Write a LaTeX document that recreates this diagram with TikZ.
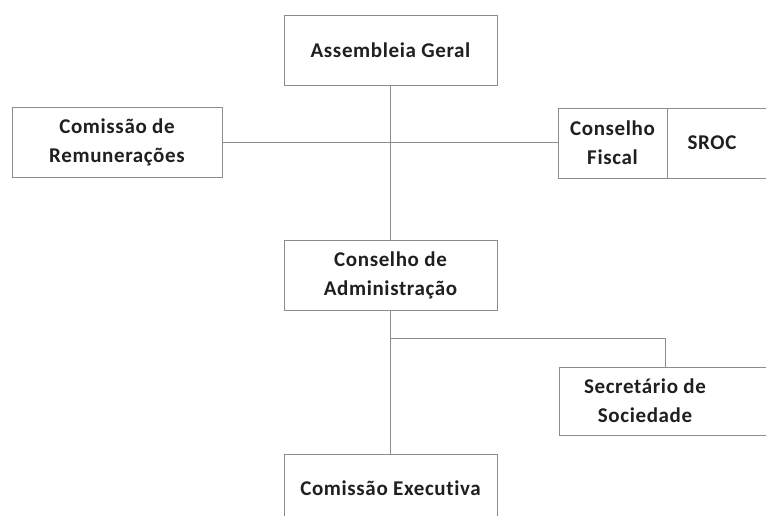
\documentclass[tikz,border=0pt]{standalone}
\usepackage{fontspec}
\setmainfont{Carlito}[Ligatures=NoCommon, LetterSpace=3]
\begin{document}
\begin{tikzpicture}[x=1pt,y=-1pt,
  box/.style={draw=black!45, line width=0.9pt, minimum width=#1, minimum height=70pt, inner sep=0pt, outer sep=0pt},
  lbl/.style={font=\fontsize{21}{29}\selectfont\bfseries, text=black!88, align=center, inner sep=0pt},
  conn/.style={draw=black!45, line width=0.9pt}]
\useasboundingbox (0,0) rectangle (766,516);
\clip (0,0) rectangle (766,516);
% boxes
\node[box=213pt] (ag) at (390.5,50) {};
\node[lbl] (agt) at (390.5,50) {Assembleia Geral};
\node[box=210pt] (cr) at (117,142) {};
\node[lbl] (crt) at (117,142) {Comissão de\\Remunerações};
\node[box=109pt] (cf) at (612.5,143) {};
\node[lbl] (cft) at (612.5,143) {Conselho\\Fiscal};
\node[box=103pt] (sroc) at (718.5,143) {};
\node[lbl] (sroct) at (712,143) {SROC};
\node[box=213pt] (ca) at (390.5,275) {};
\node[lbl] (cat) at (390.5,275) {Conselho de\\Administração};
\node[box=212pt, minimum height=68pt] (ss) at (665,401) {};
\node[lbl] (sst) at (645,401) {Secretário de\\Sociedade};
\node[box=213pt, minimum height=80pt] (ce) at (390.5,494) {};
\node[lbl] (cet) at (390.5,488) {Comissão Executiva};
% connectors
\coordinate (br) at (390.5,338);
\draw[conn] (ag.south) -- (ca.north);
\draw[conn] (cr.east) -- (cr.east -| cf.west);
\draw[conn] (ca.south) -- (ce.north);
\draw[conn] (br) -| (ss.north);
\end{tikzpicture}
\end{document}
